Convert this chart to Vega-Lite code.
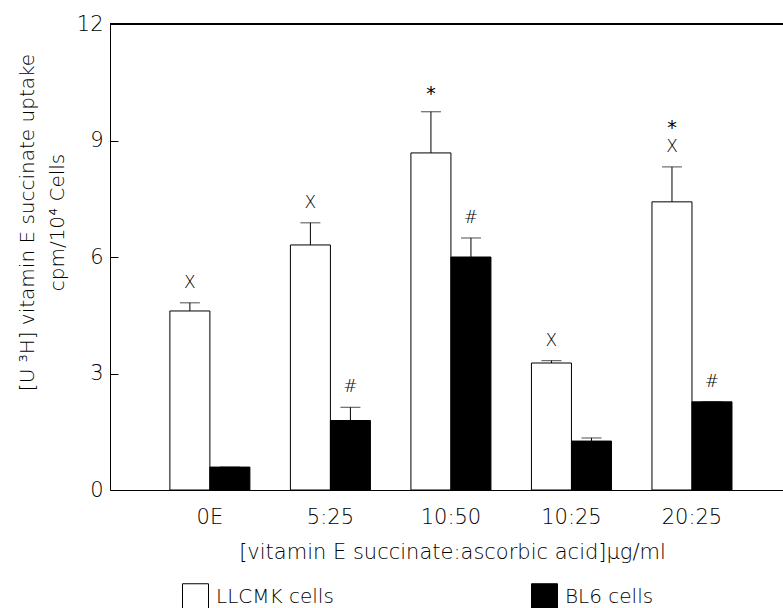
{
  "$schema": "https://vega.github.io/schema/vega-lite/v6.json",
  "width": 673,
  "height": 466,
  "autosize": {"type": "none"},
  "padding": {"left": 110, "top": 24, "right": 0, "bottom": 118},
  "background": "white",
  "config": {
    "view": {"stroke": null},
    "font": "DejaVu Sans",
    "axis": {"grid": false, "domainColor": "black", "tickColor": "black", "labelColor": "black", "titleColor": "black", "labelFont": "DejaVu Sans", "titleFont": "DejaVu Sans", "labelFontWeight": 200, "titleFontWeight": 200},
    "legend": {"labelFont": "DejaVu Sans", "labelFontWeight": 200, "labelColor": "black"}
  },
  "data": {
    "values": [
      {"group": "0E", "series": "LLCMK cells", "value": 4.61, "err": 4.82, "sig": "X", "star": "", "star2": ""},
      {"group": "0E", "series": "BL6 cells", "value": 0.59, "err": 0.59, "sig": "", "star": "", "star2": ""},
      {"group": "5:25", "series": "LLCMK cells", "value": 6.31, "err": 6.88, "sig": "X", "star": "", "star2": ""},
      {"group": "5:25", "series": "BL6 cells", "value": 1.79, "err": 2.13, "sig": "#", "star": "", "star2": ""},
      {"group": "10:50", "series": "LLCMK cells", "value": 8.68, "err": 9.74, "sig": "", "star": "*", "star2": ""},
      {"group": "10:50", "series": "BL6 cells", "value": 6.0, "err": 6.49, "sig": "#", "star": "", "star2": ""},
      {"group": "10:25", "series": "LLCMK cells", "value": 3.27, "err": 3.33, "sig": "X", "star": "", "star2": ""},
      {"group": "10:25", "series": "BL6 cells", "value": 1.26, "err": 1.34, "sig": "", "star": "", "star2": ""},
      {"group": "20:25", "series": "LLCMK cells", "value": 7.42, "err": 8.32, "sig": "X", "star": "", "star2": "*"},
      {"group": "20:25", "series": "BL6 cells", "value": 2.27, "err": 2.27, "sig": "#", "star": "", "star2": ""}
    ]
  },
  "layer": [
    {
      "layer": [
        {
          "mark": {"type": "bar", "stroke": "black", "strokeWidth": 1},
          "encoding": {
            "y": {
              "field": "value", "type": "quantitative",
              "scale": {"domain": [0, 12], "nice": false},
              "axis": {
                "values": [0, 3, 6, 9, 12], "tickSize": -8, "labelPadding": 15, "labelFontSize": 21,
                "title": ["[U ³H] vitamin E succinate uptake", "cpm/10⁴ Cells"],
                "titleFontSize": 20, "titleAngle": -90, "titleX": -93, "titleY": 198,
                "titleBaseline": "top", "titleAlign": "center", "titleLineHeight": 30
              }
            },
            "fill": {
              "field": "series", "type": "nominal",
              "scale": {"domain": ["LLCMK cells", "BL6 cells"], "range": ["white", "black"]},
              "legend": {
                "title": null, "orient": "none", "direction": "horizontal", "legendX": 72, "legendY": 559,
                "symbolType": "square", "symbolSize": 676, "symbolStrokeColor": "black", "symbolStrokeWidth": 1,
                "labelFontSize": 20, "labelOffset": 7, "columnPadding": 195
              }
            }
          }
        },
        {
          "mark": {"type": "rule", "color": "black", "strokeWidth": 1},
          "encoding": {
            "y": {"field": "value", "type": "quantitative"},
            "y2": {"field": "err"}
          }
        },
        {
          "mark": {"type": "tick", "color": "black", "orient": "horizontal", "size": 20, "thickness": 1},
          "encoding": {
            "y": {"field": "err", "type": "quantitative"}
          }
        },
        {
          "mark": {"type": "text", "color": "black", "font": "DejaVu Sans", "fontWeight": 200, "fontSize": 17, "baseline": "bottom", "dy": -11},
          "encoding": {
            "y": {"field": "err", "type": "quantitative"},
            "text": {"field": "sig"}
          }
        },
        {
          "mark": {"type": "text", "color": "black", "font": "DejaVu Sans", "fontWeight": "normal", "fontSize": 19, "baseline": "bottom", "dy": -8},
          "encoding": {
            "y": {"field": "err", "type": "quantitative"},
            "text": {"field": "star"}
          }
        },
        {
          "mark": {"type": "text", "color": "black", "font": "DejaVu Sans", "fontWeight": "normal", "fontSize": 19, "baseline": "bottom", "dy": -29},
          "encoding": {
            "y": {"field": "err", "type": "quantitative"},
            "text": {"field": "star2"}
          }
        }
      ],
      "encoding": {
        "x": {
          "field": "group", "type": "nominal", "sort": ["0E", "5:25", "10:50", "10:25", "20:25"],
          "scale": {"paddingInner": 0.336, "paddingOuter": 0.46, "align": 0.54},
          "axis": {
            "title": "[vitamin E succinate:ascorbic acid]μg/ml",
            "labelAngle": 0, "labelFontSize": 21, "labelPadding": 16, "ticks": false,
            "titleFontSize": 21, "titleX": 342, "titleY": 51, "titleAlign": "center", "titleBaseline": "top"
          }
        },
        "xOffset": {"field": "series", "type": "nominal", "sort": ["LLCMK cells", "BL6 cells"], "scale": {"paddingInner": 0, "paddingOuter": 0}}
      }
    },
    {
      "mark": {"type": "rule", "color": "black", "strokeWidth": 1},
      "encoding": {
        "y": {"datum": 12, "type": "quantitative"}
      }
    }
  ]
}
